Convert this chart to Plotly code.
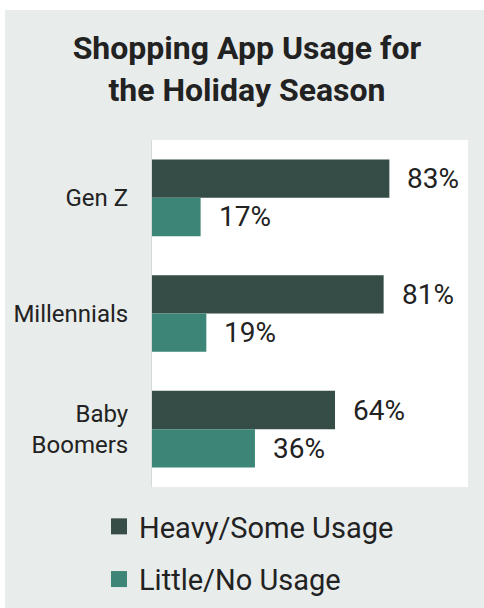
import plotly.graph_objects as go

# Survey results: share of each generation by shopping-app usage level
generations = ["Gen Z", "Millennials", "Baby<br>Boomers"]
heavy_some = [83, 81, 64]
little_none = [17, 19, 36]
series_names = ["Heavy/Some Usage", "Little/No Usage"]

DARK = "#364c46"
TEAL = "#3d8677"
BG = "#e8eceb"
TEXT = "#222222"
FONT = "Roboto"

W, H = 484, 608
ML, MR, MT, MB = 152, 16, 140, 121
PW, PH = W - ML - MR, H - MT - MB


def px_to_paper_x(px):
    return (px - ML) / PW


def px_to_paper_y(py):
    return (H - MB - py) / PH


fig = go.Figure()

for name, vals, color in [(series_names[0], heavy_some, DARK),
                          (series_names[1], little_none, TEAL)]:
    fig.add_trace(go.Bar(
        y=generations, x=vals, orientation="h", name=name,
        marker=dict(color=color, line=dict(width=0)),
        showlegend=False, hoverinfo="x+y",
    ))

# Legend entries as square markers
for i, (name, color) in enumerate([(series_names[0], DARK), (series_names[1], TEAL)]):
    fig.add_trace(go.Scatter(
        x=[None], y=[None], mode="markers", name=name,
        marker=dict(symbol="square", size=16, color=color),
        legendgroup=f"g{i}", showlegend=True,
    ))

# Value labels just past the end of each bar
bar_half = 19
for g, hv, lv in zip(generations, heavy_some, little_none):
    for v, shift in [(hv, bar_half), (lv, -bar_half)]:
        fig.add_annotation(
            x=v, y=g, text=f"{v}%", showarrow=False,
            xanchor="left", yanchor="middle", xshift=16, yshift=shift,
            font=dict(family=FONT, size=28, color=TEXT),
        )

shapes = [
    # white plot area
    dict(type="rect", xref="paper", yref="paper", x0=0, x1=1, y0=0, y1=1,
         fillcolor="white", line=dict(width=0), layer="below"),
    # white page edges around the grey panel
    dict(type="rect", xref="paper", yref="paper",
         x0=px_to_paper_x(0), x1=px_to_paper_x(5), y0=px_to_paper_y(H), y1=px_to_paper_y(0),
         fillcolor="white", line=dict(width=0), layer="below"),
    dict(type="rect", xref="paper", yref="paper",
         x0=px_to_paper_x(0), x1=px_to_paper_x(W), y0=px_to_paper_y(10), y1=px_to_paper_y(0),
         fillcolor="white", line=dict(width=0), layer="below"),
]

fig.update_layout(
    width=W, height=H,
    margin=dict(l=ML, r=MR, t=MT, b=MB, pad=0, autoexpand=False),
    paper_bgcolor=BG, plot_bgcolor="white",
    barmode="group", bargap=0.337, bargroupgap=0,
    font=dict(family=FONT, color=TEXT),
    title=dict(
        text="<b>Shopping App Usage for<br>the Holiday Season</b>",
        x=247 / W, xref="container", xanchor="center",
        y=1 - 59 / H, yref="container", yanchor="top",
        font=dict(family=FONT, size=32, color=TEXT),
    ),
    xaxis=dict(range=[0, 110.5], visible=False, fixedrange=True),
    yaxis=dict(
        autorange="reversed", showgrid=False, zeroline=False,
        showline=True, linecolor="#d6dad8", linewidth=1,
        ticks="", ticklabelstandoff=18,
        tickfont=dict(family=FONT, size=24, color=TEXT),
    ),
    legend=dict(
        x=px_to_paper_x(99), xanchor="left",
        y=px_to_paper_y(501), yanchor="top",
        orientation="v", tracegroupgap=12,
        bgcolor="rgba(0,0,0,0)",
        font=dict(family=FONT, size=29, color=TEXT),
    ),
    shapes=shapes,
)

fig.write_html("out.html")
